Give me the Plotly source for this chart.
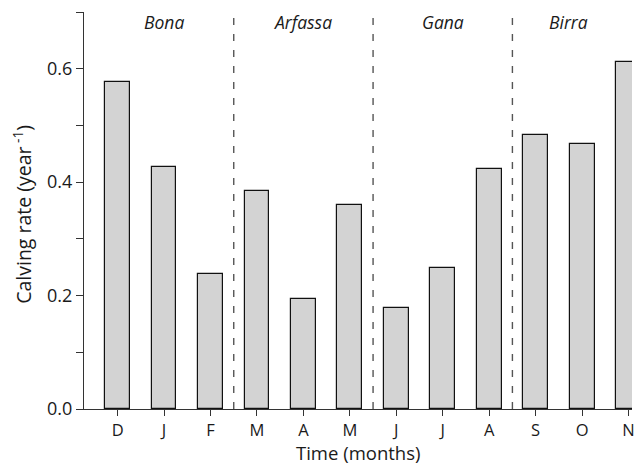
import plotly.graph_objects as go

months = ["D", "J", "F", "M", "A", "M", "J", "J", "A", "S", "O", "N"]
calving_rate = [0.576, 0.427, 0.238, 0.384, 0.194, 0.360, 0.178, 0.249, 0.424, 0.484, 0.467, 0.611]
seasons = ["Bona", "Arfassa", "Gana", "Birra"]
season_pos = [1, 4, 7, 9.7]
season_breaks = [2.5, 5.5, 8.5]
y_tickvals = [0.0, 0.1, 0.2, 0.3, 0.4, 0.5, 0.6, 0.7]
y_ticktext = ["0.0", "", "0.2", "", "0.4", "", "0.6", ""]

FONT = "Open Sans"
TXT = "#1a1a1a"
x_idx = list(range(len(months)))

fig = go.Figure()
fig.add_trace(go.Bar(
    x=x_idx, y=calving_rate, width=0.535,
    marker=dict(color="#d3d3d3", line=dict(color="#111111", width=1.2)),
    showlegend=False, hoverinfo="skip",
))

shapes = []
for b in season_breaks:
    shapes.append(dict(type="line", xref="x", yref="y", x0=b, x1=b, y0=0, y1=0.7,
                       line=dict(color="#555555", width=1.4, dash="7px,9px")))

annotations = []
for name, pos in zip(seasons, season_pos):
    annotations.append(dict(x=pos, y=0.683, xref="x", yref="y", text="<i>" + name + "</i>",
                            showarrow=False, font=dict(family=FONT, size=17.5, color=TXT),
                            xanchor="center", yanchor="middle"))
annotations.append(dict(x=(22 - 84) / 551, y=0.49, xref="paper", yref="paper",
                        text="Calving rate (year<sup> -1</sup>)", textangle=-90, showarrow=False,
                        font=dict(family=FONT, size=19.5, color=TXT),
                        xanchor="center", yanchor="middle"))
annotations.append(dict(x=0.5, y=(409 - 466) / 397, xref="paper", yref="paper",
                        text="Time (months)", showarrow=False, borderpad=0,
                        font=dict(family=FONT, size=18.5, color=TXT),
                        xanchor="center", yanchor="bottom"))

fig.update_layout(
    width=635, height=465,
    margin=dict(l=84, r=0, t=12, b=56),
    plot_bgcolor="white", paper_bgcolor="white",
    font=dict(family=FONT, size=16, color=TXT),
    shapes=shapes, annotations=annotations,
    bargap=0,
)
fig.update_xaxes(
    range=[-0.724, 11.075], tickvals=x_idx, ticktext=months,
    ticks="outside", ticklen=6, tickcolor="#333333", tickwidth=1.2,
    showline=True, linecolor="#333333", linewidth=1.4,
    showgrid=False, zeroline=False, tickfont=dict(family=FONT, size=16.5, color=TXT),
    ticklabeloverflow="allow", ticklabelstandoff=0,
)
fig.update_yaxes(
    range=[0, 0.7], tickvals=y_tickvals, ticktext=y_ticktext,
    ticks="outside", ticklen=7, tickcolor="#333333", tickwidth=1.2,
    showline=True, linecolor="#333333", linewidth=1.4,
    showgrid=False, zeroline=False, tickfont=dict(family=FONT, size=18, color=TXT),
)

fig.write_html(
    "out.html",
    config={"displayModeBar": False},
    post_script="document.body.style.margin='0';document.body.style.padding='0';"
                "document.body.style.overflow='hidden';document.documentElement.style.overflow='hidden';",
)
